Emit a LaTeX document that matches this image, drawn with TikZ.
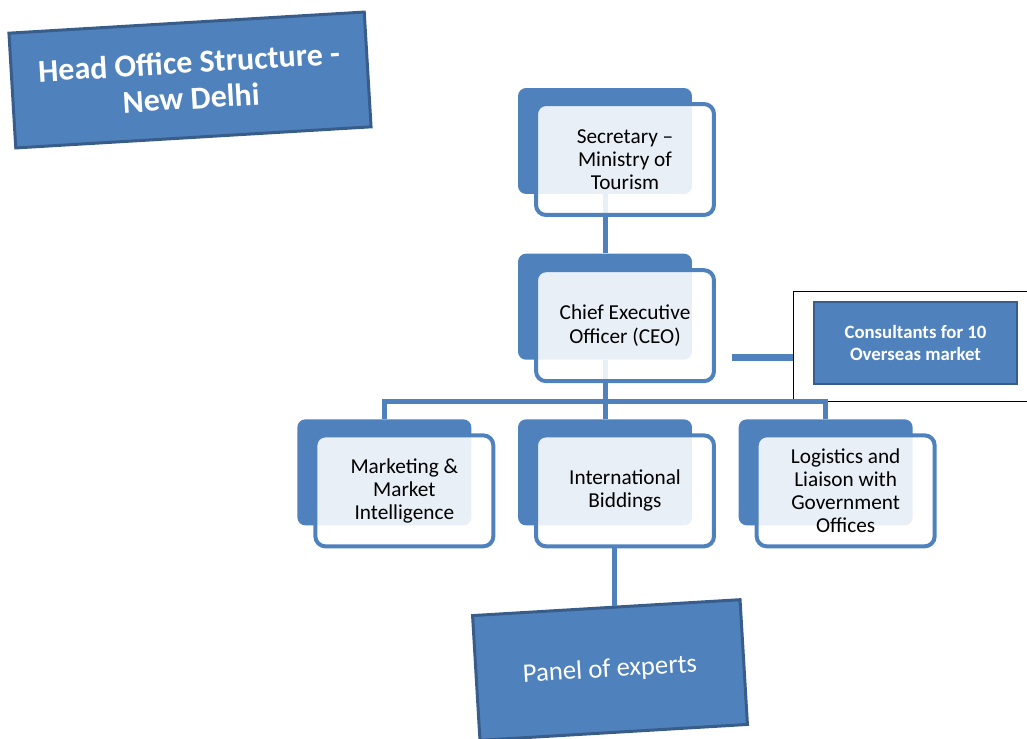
\documentclass[tikz,border=0pt]{standalone}
\usepackage{fontspec}
\setmainfont{Carlito}
\usetikzlibrary{positioning,calc}
\definecolor{accent}{HTML}{4F81BD}
\definecolor{accentdark}{HTML}{385D8A}

\begin{document}
\begin{tikzpicture}[
        x=0.02cm, y=-0.02cm,
        node distance=1.18cm and 0.92cm,
        backbox/.style={fill=accent, draw=none, rounded corners=0.16cm, minimum width=3.48cm, minimum height=2.12cm, inner sep=0pt},
        frontbox/.style={draw=accent, line width=0.08cm, fill=white, fill opacity=0.88, text opacity=1, rounded corners=0.2cm, minimum width=3.56cm, minimum height=2.22cm, align=center, inner sep=0pt, text=black, font=\fontsize{12.1}{13.2}\selectfont},
        link/.style={draw=accent, line width=0.1cm},
        tilted/.style={fill=accent, draw=accentdark, line width=0.06cm, text=white, align=center, rotate=3.4}
    ]
    \useasboundingbox (0,0) rectangle (1027,738);

    % back plates
    \node[backbox] (secB) at (605,141) {};
    \node[backbox, below=of secB] (ceoB) {};
    \node[backbox, below=of ceoB] (intB) {};
    \node[backbox, left=of intB] (marB) {};
    \node[backbox, right=of intB] (logB) {};

    % consultants
    \node[draw=black, fill=white, line width=0.02cm, minimum width=4.74cm, minimum height=2.2cm] (consF) at (911.5,346) {};
    \node[fill=accent, draw=accentdark, line width=0.04cm, minimum width=4.06cm, minimum height=1.64cm, text=white, align=center, font=\bfseries\fontsize{10.7}{13}\selectfont] (cons) at (915.5,343) {Consultants for 10\\Overseas market};

    % links
    \coordinate (bus) at (605,401);
    \draw[link] (secB) -- (ceoB);
    \draw[link] (ceoB) -- (bus);
    \draw[link] (marB) |- (bus) -| (logB);
    \draw[link] (bus) -- (intB);

    % front boxes
    \node[frontbox] (sec) at ([shift={(0.4cm,-0.37cm)}]secB.center) {Secretary --\\Ministry of\\Tourism};
    \node[frontbox] (ceo) at ([shift={(0.4cm,-0.38cm)}]ceoB.center) {Chief Executive\\Officer (CEO)};
    \node[frontbox] (mar) at ([shift={(0.4cm,-0.37cm)}]marB.center) {Marketing \&\\Market\\Intelligence};
    \node[frontbox] (int) at ([shift={(0.4cm,-0.37cm)}]intB.center) {International\\Biddings};
    \node[frontbox] (log) at ([shift={(0.4cm,-0.37cm)}]logB.center) {Logistics and\\Liaison with\\Government\\Offices};

    \coordinate (ceoR) at ([shift={(0.32cm,-0.63cm)}]ceo.east);
    \draw[link, line width=0.14cm] (ceoR) -- (ceoR -| consF.west);

    % tilted boxes
    \node[tilted, minimum width=7.12cm, minimum height=2.3cm, font=\bfseries\fontsize{18.2}{20.5}\selectfont] (title) at (190,80) {Head Office Structure -\\New Delhi};
    \node[tilted, minimum width=5.36cm, minimum height=2.5cm, font=\fontsize{15.2}{17}\selectfont] (panel) at (610,670) {Panel of experts};
    \draw[link] ([xshift=-0.22cm]int.south) -- ([xshift=-0.22cm]int.south |- panel.north);
\end{tikzpicture}
\end{document}
